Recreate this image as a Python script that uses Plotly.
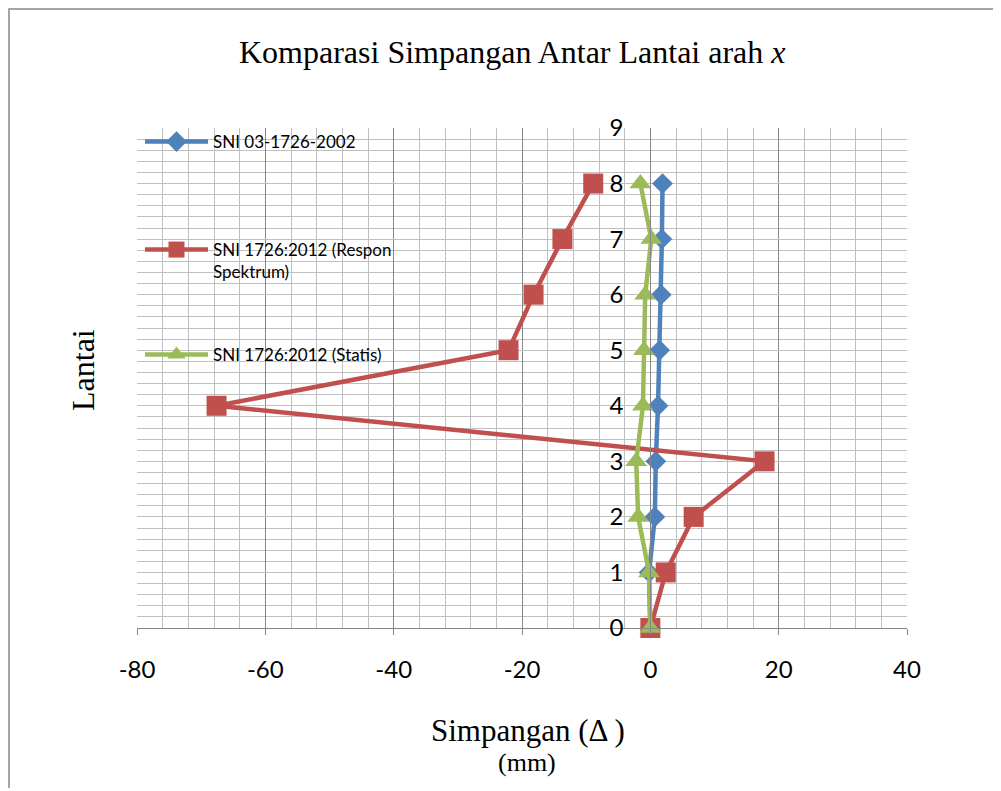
import plotly.graph_objects as go

lantai = [0, 1, 2, 3, 4, 5, 6, 7, 8]
sni_2002 = [0.0, -0.2, 0.7, 0.85, 1.2, 1.45, 1.7, 1.8, 1.9]
sni_2012_rs = [0.0, 2.4, 6.75, 17.8, -67.6, -22.1, -18.2, -13.7, -8.9]
sni_2012_statis = [0.0, -0.2, -1.9, -2.2, -1.15, -1.0, -0.8, 0.15, -1.55]

names = ["SNI 03-1726-2002", "SNI 1726:2012 (Respon<br>Spektrum)", "SNI 1726:2012 (Statis)"]
colors = ["#4F81BD", "#C0504D", "#9BBB59"]
symbols = ["diamond", "square", "triangle-up"]
msizes = [16, 20, 19]
series = [sni_2002, sni_2012_rs, sni_2012_statis]
legend_ids = ["legend", "legend2", "legend3"]

x_ticks = [-80, -60, -40, -20, 0, 20, 40]
y_ticks = [0, 1, 2, 3, 4, 5, 6, 7, 8, 9]

fig = go.Figure()
for i in range(3):
    fig.add_trace(go.Scatter(
        x=series[i], y=lantai, mode="lines+markers", name=names[i],
        legend=legend_ids[i],
        line=dict(color=colors[i], width=4.5),
        marker=dict(symbol=symbols[i], size=msizes[i], color=colors[i]),
        cliponaxis=False,
    ))

# page offset of 8px (body margin) is taken into account
W, H = 990, 780
L, T = 129, 120
pw, ph = 770, 500
R, B = W - L - pw, H - T - ph

def px(x_page):
    return (x_page - 137) / pw

def py(y_page):
    return (628 - y_page) / ph

leg_common = dict(
    xanchor="left", yanchor="top",
    bgcolor="rgba(0,0,0,0)",
    font=dict(family="Lato", size=17, color="black"),
    itemwidth=63, valign="top",
)
leg_tops = [124, 232, 337]

fig.update_layout(
    width=W, height=H,
    margin=dict(l=L, r=R, t=T, b=B),
    paper_bgcolor="white", plot_bgcolor="white",
    showlegend=True,
    legend=dict(x=px(140), y=py(leg_tops[0]), **leg_common),
    legend2=dict(x=px(140), y=py(leg_tops[1]), **leg_common),
    legend3=dict(x=px(140), y=py(leg_tops[2]), **leg_common),
    xaxis=dict(
        range=[-80, 40], tickvals=x_ticks, ticktext=[str(v) for v in x_ticks],
        showgrid=True, gridcolor="#868686", gridwidth=1,
        minor=dict(dtick=4, tick0=0, showgrid=True, gridcolor="#C0C0C0", gridwidth=1),
        zeroline=False, showline=True, linecolor="#868686", linewidth=1,
        ticks="outside", ticklen=6, tickcolor="#868686",
        tickfont=dict(family="Lato", size=24, color="black"),
        ticklabelstandoff=14,
    ),
    yaxis=dict(
        range=[0, 9], tickvals=y_ticks, ticktext=[str(v) for v in y_ticks],
        anchor="free", position=80 / 120,
        showgrid=True, gridcolor="#C0C0C0", gridwidth=1,
        minor=dict(dtick=0.2, tick0=0, showgrid=True, gridcolor="#C0C0C0", gridwidth=1),
        zeroline=False, showline=True, linecolor="#868686", linewidth=1,
        ticks="", tickfont=dict(family="Lato", size=24, color="black"),
        ticklabelstandoff=22,
    ),
    shapes=[
        dict(type="rect", xref="paper", yref="paper",
             x0=px(9), x1=px(1030), y0=py(830), y1=py(9),
             line=dict(color="#868686", width=1.5), fillcolor="rgba(0,0,0,0)", layer="below"),
    ],
    annotations=[
        dict(text="Komparasi Simpangan Antar Lantai arah <i>x</i>", xref="paper", yref="paper",
             x=px(512), y=py(52), xanchor="center", yanchor="middle", showarrow=False,
             font=dict(family="Liberation Serif", size=32, color="black")),
        dict(text="Lantai", xref="paper", yref="paper", x=px(83), y=py(370), textangle=-90,
             xanchor="center", yanchor="middle", showarrow=False,
             font=dict(family="Liberation Serif", size=32, color="black")),
        dict(text="Simpangan (Δ )", xref="paper", yref="paper", x=px(528), y=py(730),
             xanchor="center", yanchor="middle", showarrow=False,
             font=dict(family="Liberation Serif", size=31, color="black")),
        dict(text="(mm)", xref="paper", yref="paper", x=px(527), y=py(762),
             xanchor="center", yanchor="middle", showarrow=False,
             font=dict(family="Liberation Serif", size=26, color="black")),
    ],
)

fig.write_html("out.html")
